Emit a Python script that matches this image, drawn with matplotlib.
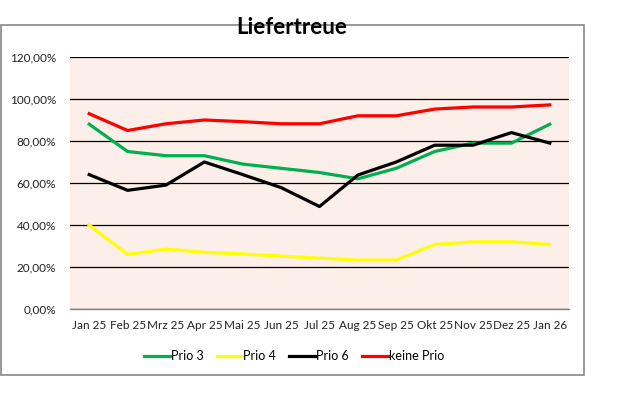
import matplotlib
matplotlib.use('Agg')
import matplotlib.pyplot as plt
from matplotlib.patches import Rectangle
from matplotlib.ticker import FuncFormatter

plt.rcParams['font.family'] = ['Lato', 'DejaVu Sans']

# data
months = ['Jan 25', 'Feb 25', 'Mrz 25', 'Apr 25', 'Mai 25', 'Jun 25', 'Jul 25',
          'Aug 25', 'Sep 25', 'Okt 25', 'Nov 25', 'Dez 25', 'Jan 26']
prio3 = [0.88, 0.75, 0.73, 0.73, 0.69, 0.67, 0.65, 0.62, 0.67, 0.75, 0.79, 0.79, 0.88]
prio4 = [0.40, 0.26, 0.285, 0.27, 0.262, 0.252, 0.242, 0.233, 0.233, 0.307, 0.32, 0.32, 0.307]
prio6 = [0.64, 0.565, 0.59, 0.70, 0.64, 0.578, 0.488, 0.638, 0.70, 0.78, 0.78, 0.84, 0.79]
keine = [0.93, 0.85, 0.882, 0.90, 0.892, 0.882, 0.882, 0.92, 0.92, 0.952, 0.962, 0.962, 0.972]

W, H = 626, 399
fig = plt.figure(figsize=(W / 100, H / 100), dpi=100)
ax = fig.add_axes([70 / W, 90 / H, 499 / W, 252 / H])
ax.set_facecolor('#FCEEE8')

x = range(len(months))
ax.plot(x, prio3, color='#00B050', lw=2.3, label='Prio 3', solid_joinstyle='round')
ax.plot(x, prio4, color='#FFFF00', lw=2.3, label='Prio 4', solid_joinstyle='round')
ax.plot(x, prio6, color='black', lw=2.3, label='Prio 6', solid_joinstyle='round')
ax.plot(x, keine, color='#FF0000', lw=2.3, label='keine Prio', solid_joinstyle='round')

ax.set_xlim(-0.5, len(months) - 0.5)
ax.set_ylim(0, 1.2)
ax.set_yticks([0, 0.2, 0.4, 0.6, 0.8, 1.0, 1.2])
ax.yaxis.set_major_formatter(FuncFormatter(lambda v, p: ('%.2f%%' % (v * 100)).replace('.', ',')))
ax.set_xticks(list(x))
ax.set_xticklabels(months)
ax.grid(axis='y', color='black', lw=0.9)
ax.set_axisbelow(True)
for s in ['top', 'right', 'left']:
    ax.spines[s].set_visible(False)
ax.spines['bottom'].set_color('#868686')
ax.spines['bottom'].set_linewidth(1.0)
ax.tick_params(axis='y', length=0, pad=10, labelsize=8.5, colors='#222222')
ax.tick_params(axis='x', length=0, pad=8, labelsize=8.5, colors='#222222')

fig.text(292 / W, 1 - 27 / H, 'Liefertreue', ha='center', va='center',
         fontsize=16, fontweight='bold')

fig.legend(loc='center', bbox_to_anchor=(294 / W, 1 - 356 / H), ncol=4, frameon=False,
           fontsize=9, handlelength=2.1, handletextpad=0.05, columnspacing=1.05)

fig.patches.append(Rectangle((0.5 / W, 24 / H), 583.5 / W, 374.5 / H - 24 / H,
                             transform=fig.transFigure, fill=False,
                             edgecolor='#868686', lw=1.2))

fig.savefig('out.png', dpi=100)
